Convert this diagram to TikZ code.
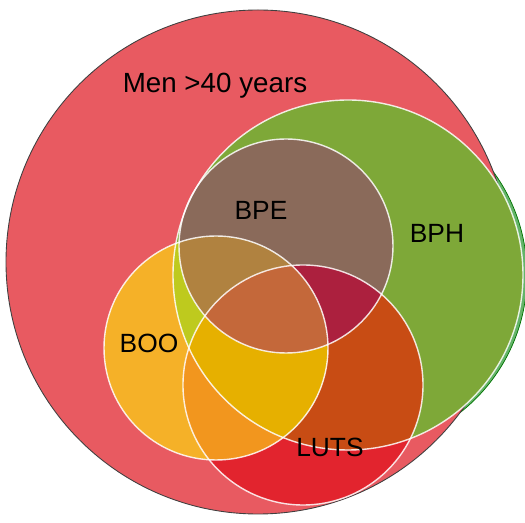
\documentclass[tikz,border=0pt]{standalone}
\usepackage{fontspec}
\setmainfont{Liberation Sans}
\usepackage{xcolor}

% fills for every region of the diagram
\definecolor{menred}{RGB}{232,90,97}
\definecolor{bphgreen}{RGB}{126,168,56}
\definecolor{bphshade}{RGB}{100,180,105}
\definecolor{booorange}{RGB}{245,177,40}
\definecolor{boobph}{RGB}{190,202,30}
\definecolor{bpebrown}{RGB}{138,106,90}
\definecolor{bpeboo}{RGB}{176,130,64}
\definecolor{lutsred}{RGB}{226,36,46}
\definecolor{lutsbph}{RGB}{200,76,20}
\definecolor{lutsboo}{RGB}{242,150,30}
\definecolor{lutsboobph}{RGB}{230,176,0}
\definecolor{lutsbpe}{RGB}{172,32,62}
\definecolor{lutsbpeboo}{RGB}{196,104,58}

% the circles (one unit = one pixel, y pointing down)
\def\mencirc{(258,262) circle (252)}
\def\BPHcirc{(348,275) circle (175)}
\def\BPEcirc{(286,246) circle (107)}
\def\BOOcirc{(216,348) circle (112)}
\def\LUTScirc{(303,385) circle (120)}

\tikzset{
	ring/.style={draw=white, draw opacity=0.85, line width=0.8pt},
	lbl/.style={font=\fontsize{15}{18}\selectfont, anchor=base, inner sep=0pt}
}

\begin{document}
\begin{tikzpicture}[x=0.02cm, y=-0.02cm]
	\useasboundingbox (0,0) rectangle (525,523);
	% green shadow behind BPH
	\filldraw[fill=bphshade, draw=green!45!black, line width=0.4pt] (352,275) circle (175);
	% outer population
	\filldraw[fill=menred, draw=black!75, line width=0.5pt] \mencirc;
	\fill[bphgreen] \BPHcirc;
	\fill[booorange] \BOOcirc;
	\begin{scope}
		\clip \BOOcirc;
		\fill[boobph] \BPHcirc;
	\end{scope}
	\fill[bpebrown] \BPEcirc;
	\begin{scope}
		\clip \BPEcirc;
		\fill[bpeboo] \BOOcirc;
	\end{scope}
	\fill[lutsred] \LUTScirc;
	\begin{scope}
		\clip \LUTScirc;
		\fill[lutsbph] \BPHcirc;
		\fill[lutsboo] \BOOcirc;
		\begin{scope}
			\clip \BOOcirc;
			\fill[lutsboobph] \BPHcirc;
		\end{scope}
		\fill[lutsbpe] \BPEcirc;
		\begin{scope}
			\clip \BPEcirc;
			\fill[lutsbpeboo] \BOOcirc;
		\end{scope}
	\end{scope}
	% white rims
	\path[ring] \BPHcirc;
	\path[ring] \BPEcirc;
	\path[ring] \BOOcirc;
	\path[ring] \LUTScirc;
	% labels
	\node[lbl, font=\fontsize{15.8}{19}\selectfont] (men) at (215,93) {Men >40 years};
	\node[lbl] (bpe) at (261,220) {BPE};
	\node[lbl] (bph) at (437,243) {BPH};
	\node[lbl] (boo) at (149,353) {BOO};
	\node[lbl] (luts) at (330,457) {LUTS};
\end{tikzpicture}
\end{document}
